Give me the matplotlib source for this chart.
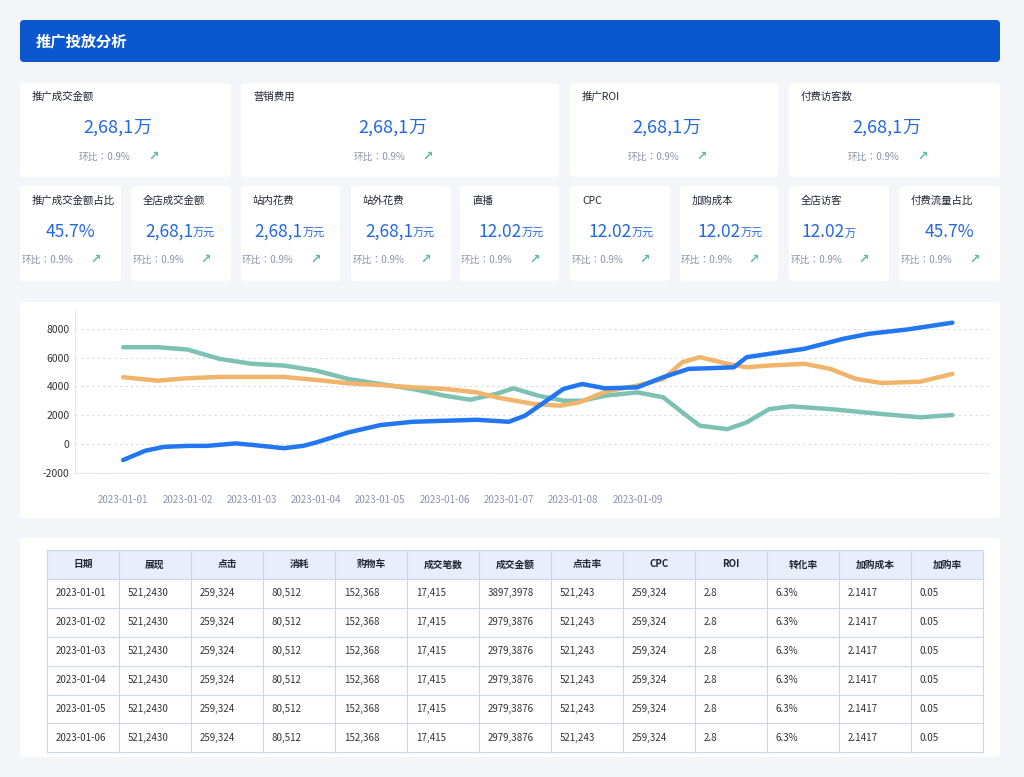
# 推广投放分析 dashboard
import matplotlib
matplotlib.use("Agg")
import matplotlib.pyplot as plt
from matplotlib import font_manager
from matplotlib.patches import FancyBboxPatch, Rectangle

# pick an installed CJK family (names can vary between installs)
cjk = [f.name for f in font_manager.fontManager.ttflist if "CJK" in f.name]
cjk_pref = [n for n in cjk if n.endswith("SC")] or cjk
plt.rcParams["font.family"] = "sans-serif"
plt.rcParams["font.sans-serif"] = cjk_pref[:1] + ["Noto Sans CJK SC", "DejaVu Sans"]

# ---- data ----
top_titles = ["推广成交金额", "营销费用", "推广ROI", "付费访客数"]
top_values = ["2,68,1", "2,68,1", "2,68,1", "2,68,1"]
top_units = ["万", "万", "万", "万"]

kpi_titles = ["推广成交金额占比", "全店成交金额", "站内花费", "站外花费", "直播",
              "CPC", "加购成本", "全店访客", "付费流量占比"]
kpi_values = ["45.7%", "2,68,1", "2,68,1", "2,68,1", "12.02", "12.02", "12.02", "12.02", "45.7%"]
kpi_units = ["", "万元", "万元", "万元", "万元", "万元", "万元", "万", ""]
ratio_text = "环比：0.9%"

dates = ["2023-01-01", "2023-01-02", "2023-01-03", "2023-01-04", "2023-01-05",
         "2023-01-06", "2023-01-07", "2023-01-08", "2023-01-09"]

blue_x = [0, 0.34, 0.63, 1, 1.3, 1.75, 2, 2.5, 2.8, 3, 3.5, 4, 4.5, 5, 5.5, 6, 6.25, 6.55,
          6.85, 7.14, 7.5, 8, 8.4, 8.8, 9.1, 9.5, 9.7, 10.05, 10.6, 11.2, 11.6, 12.2, 12.9]
blue_y = [-1100, -460, -190, -120, -120, 50, -50, -280, -120, 115, 810, 1320, 1550, 1620, 1690,
          1550, 1970, 2900, 3830, 4170, 3870, 3940, 4640, 5220, 5260, 5330, 6030, 6260, 6610,
          7300, 7650, 7950, 8420]
orange_x = [0, 0.53, 1, 1.5, 2, 2.5, 3, 3.5, 4, 4.5, 5, 5.5, 5.8, 6, 6.4, 6.8, 7.1, 7.5, 8,
            8.4, 8.7, 8.97, 9.4, 9.7, 10.05, 10.6, 11, 11.4, 11.8, 12.4, 12.9]
orange_y = [4640, 4400, 4570, 4660, 4660, 4660, 4450, 4220, 4100, 3940, 3830, 3590, 3250, 3090,
            2780, 2670, 2900, 3640, 4060, 4520, 5680, 6030, 5570, 5330, 5450, 5570, 5220, 4520,
            4240, 4330, 4870]
teal_x = [0, 0.53, 1, 1.5, 2, 2.5, 3, 3.5, 4, 4.5, 5, 5.4, 5.8, 6.07, 6.46, 6.85, 7.14, 7.5,
          8, 8.4, 8.7, 8.97, 9.4, 9.7, 10.05, 10.4, 11, 11.8, 12.4, 12.9]
teal_y = [6720, 6720, 6560, 5910, 5570, 5450, 5100, 4520, 4170, 3830, 3360, 3080, 3480, 3870,
          3360, 3010, 3010, 3360, 3590, 3250, 2200, 1280, 1040, 1510, 2430, 2620, 2430, 2090,
          1860, 2020]

table_header = ["日期", "展现", "点击", "消耗", "购物车", "成交笔数", "成交金额", "点击率",
                "CPC", "ROI", "转化率", "加购成本", "加购率"]
row_dates = ["2023-01-01", "2023-01-02", "2023-01-03", "2023-01-04", "2023-01-05", "2023-01-06"]
col_show = ["521,2430"] * 6
col_click = ["259,324"] * 6
col_cost = ["80,512"] * 6
col_cart = ["152,368"] * 6
col_orders = ["17,415"] * 6
col_amount = ["3897,3978"] + ["2979,3876"] * 5
col_ctr = ["521,243"] * 6
col_cpc = ["259,324"] * 6
col_roi = ["2.8"] * 6
col_cvr = ["6.3%"] * 6
col_addcost = ["2.1417"] * 6
col_addrate = ["0.05"] * 6

# ---- layout ----
fig = plt.figure(figsize=(10.24, 7.77), dpi=100, facecolor="#f3f5f9")
bg = fig.add_axes([0, 0, 1, 1])
bg.set_xlim(0, 1024)
bg.set_ylim(777, 0)
bg.axis("off")

BLUE = "#2468e0"
GREY = "#8a93a6"
DARK = "#1f2533"
GREEN = "#5fb8a5"


def card(x0, y0, x1, y1):
    bg.add_patch(FancyBboxPatch((x0, y0), x1 - x0, y1 - y0, boxstyle="round,pad=0,rounding_size=4",
                                fc="white", ec="none"))


# header
bg.add_patch(FancyBboxPatch((20, 20), 980, 42, boxstyle="round,pad=0,rounding_size=4",
                            fc="#0a57d0", ec="none"))
bg.text(36, 41, "推广投放分析", color="white", fontsize=11, fontweight="bold", va="center")


def value_text(cx, y, val, unit, big):
    if unit == "":
        bg.text(cx, y, val, color=BLUE, fontsize=big, ha="center", va="center")
        return
    if unit == "万" and big > 12.8:
        bg.text(cx + 8, y, val, color=BLUE, fontsize=big, ha="right", va="center")
        bg.text(cx + 8, y, unit, color=BLUE, fontsize=big, ha="left", va="center")
        return
    off = 12 if len(unit) == 2 else 6
    bg.text(cx + off, y, val, color=BLUE, fontsize=big, ha="right", va="center")
    bg.text(cx + off, y + 2, unit, color=BLUE, fontsize=8, ha="left", va="center")


row1 = [(20, 231), (241, 559), (570, 778), (789, 1000)]
for (x0, x1), t, v, u in zip(row1, top_titles, top_values, top_units):
    card(x0, 83, x1, 177)
    cx = (x0 + x1) / 2
    bg.text(x0 + 12, 97, t, color=DARK, fontsize=7.5, va="center")
    value_text(cx, 128, v, u, 13)
    bg.text(cx + 5, 157, ratio_text, color=GREY, fontsize=7, ha="right", va="center")
    bg.text(cx + 28, 156, "↗", color=GREEN, fontsize=9, fontweight="bold", ha="center", va="center",
            family="DejaVu Sans")

row2 = [(20, 121), (131, 231), (241, 340), (351, 451), (460, 559), (570, 670), (680, 778),
        (789, 889), (899, 1000)]
for (x0, x1), t, v, u in zip(row2, kpi_titles, kpi_values, kpi_units):
    card(x0, 186, x1, 281)
    cx = (x0 + x1) / 2
    bg.text(x0 + 12, 201, t, color=DARK, fontsize=7.5, va="center")
    value_text(cx, 232, v, u, 12.5)
    bg.text(cx + 3, 260, ratio_text, color=GREY, fontsize=7, ha="right", va="center")
    bg.text(cx + 25, 259, "↗", color=GREEN, fontsize=9, fontweight="bold", ha="center", va="center",
            family="DejaVu Sans")

# chart panel
card(20, 302, 1000, 518)
ax = fig.add_axes([75 / 1024, 1 - 473 / 777, (989 - 75) / 1024, (473 - 310) / 777])
ax.set_facecolor("none")
ax.plot(teal_x, teal_y, color="#7dc0b4", lw=3.2, solid_capstyle="round")
ax.plot(orange_x, orange_y, color="#f0b46a", lw=3.2, solid_capstyle="round")
ax.plot(blue_x, blue_y, color="#2276f0", lw=3.2, solid_capstyle="round")
ax.set_xlim(-0.75, 13.47)
ax.set_ylim(-2000, 9300)
ax.set_yticks([-2000, 0, 2000, 4000, 6000, 8000])
ax.set_yticklabels(["-2000", "0", "2000", "4000", "6000", "8000"], fontsize=7.5, color="#333")
ax.set_xticks(range(len(dates)))
ax.set_xticklabels(dates, fontsize=7, color="#8a93b0")
ax.tick_params(length=0, pad=4)
ax.tick_params(axis="x", pad=16)
ax.grid(axis="y", ls=(0, (2, 3)), color="#d5dbe6", lw=0.8)
for s in ["top", "right"]:
    ax.spines[s].set_visible(False)
ax.spines["left"].set_color("#e3e8f0")
ax.spines["bottom"].set_color("#e3e8f0")

# table panel
card(20, 538, 1000, 757)
cols = [row_dates, col_show, col_click, col_cost, col_cart, col_orders, col_amount, col_ctr,
        col_cpc, col_roi, col_cvr, col_addcost, col_addrate]
tx0, tx1 = 47, 983
cw = (tx1 - tx0) / len(table_header)
ty0, rh = 550, 28.9
bg.add_patch(Rectangle((tx0, ty0), tx1 - tx0, rh, fc="#e8effb", ec="none"))
nrows = len(row_dates) + 1
for i in range(nrows + 1):
    bg.plot([tx0, tx1], [ty0 + i * rh] * 2, color="#cbd7ee", lw=0.8)
for j in range(len(table_header) + 1):
    bg.plot([tx0 + j * cw] * 2, [ty0, ty0 + nrows * rh], color="#cbd7ee", lw=0.8)
for j, h in enumerate(table_header):
    bg.text(tx0 + j * cw + cw / 2, ty0 + rh / 2, h, fontsize=7, color=DARK, ha="center",
            va="center", fontweight="bold")
    for i, v in enumerate(cols[j]):
        bg.text(tx0 + j * cw + 9, ty0 + (i + 1.5) * rh, v, fontsize=7, color="#333",
                va="center")

fig.savefig("out.png", dpi=100, facecolor=fig.get_facecolor())
